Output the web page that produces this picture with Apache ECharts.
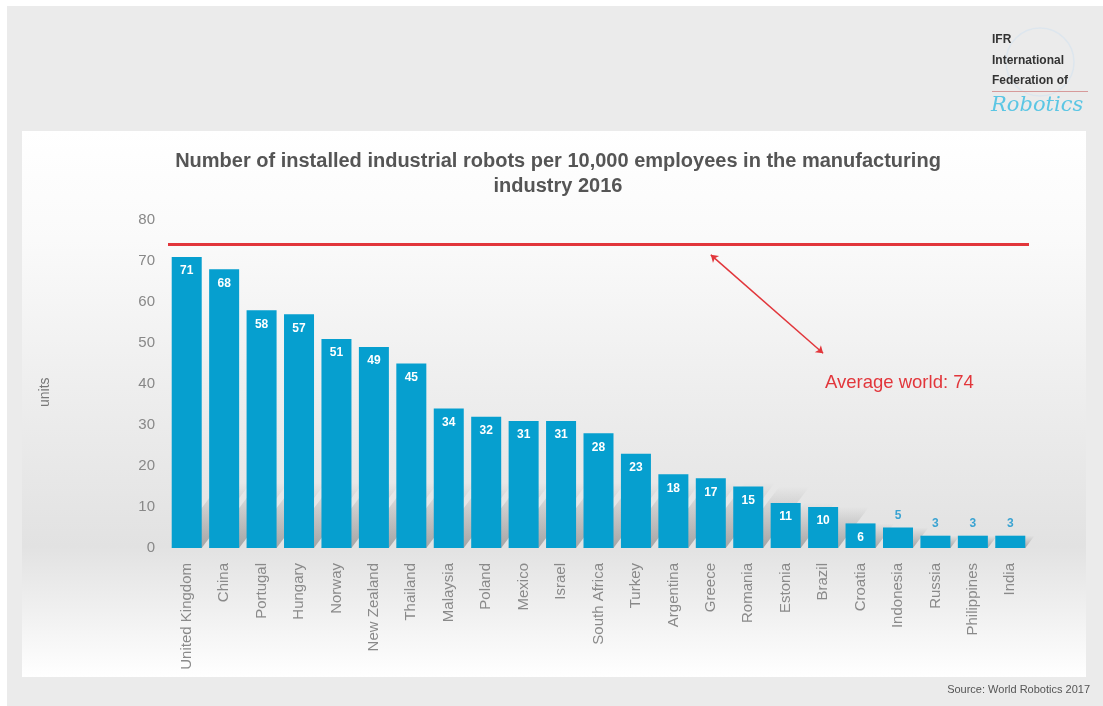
<!DOCTYPE html>
<html>
<head>
<meta charset="utf-8">
<script src="https://cdn.jsdelivr.net/npm/echarts@6/dist/echarts.min.js"></script>
<style>
html,body{margin:0;padding:0;background:#ffffff;}
#chart{width:1103px;height:706px;}
</style>
</head>
<body>
<div id="chart"></div>
<script>
const categories = ['United Kingdom','China','Portugal','Hungary','Norway','New Zealand','Thailand','Malaysia','Poland','Mexico','Israel','South Africa','Turkey','Argentina','Greece','Romania','Estonia','Brazil','Croatia','Indonesia','Russia','Philippines','India'];
const values = [71,68,58,57,51,49,45,34,32,31,31,28,23,18,17,15,11,10,6,5,3,3,3];
const worldAverage = 74;
const yTicks = [0,10,20,30,40,50,60,70,80];
const titleLines = ['Number of installed industrial robots per 10,000 employees in the manufacturing','industry 2016'];
const averageLabel = 'Average world: 74';
const sourceText = 'Source: World Robotics 2017';
</script>
<script>
const BLUE = '#069fcf';
const RED = '#e2363b';
const FONT = '"Liberation Sans", Arial, sans-serif';
const chart = echarts.init(document.getElementById('chart'), null, {renderer:'canvas'});

const barData = values.map(v => {
  if (v < 6) {
    return {value: v, label: {position: 'top', color: '#3aa3d2', distance: 6}};
  }
  return v;
});

const shadowData = values.map((v, i) => [i, v]);

const option = {
  animation: false,
  backgroundColor: 'transparent',
  grid: {left: 168, right: 74, top: 220, bottom: 158},
  xAxis: {
    type: 'category',
    data: categories,
    axisLine: {show: false},
    axisTick: {show: false},
    axisLabel: {rotate: 90, color: '#8a8a8a', fontSize: 15, fontFamily: FONT, margin: 15, interval: 0}
  },
  yAxis: {
    type: 'value',
    min: yTicks[0],
    max: yTicks[yTicks.length - 1],
    interval: 10,
    axisLine: {show: false},
    axisTick: {show: false},
    splitLine: {show: false},
    axisLabel: {color: '#888', fontSize: 15, fontFamily: FONT, margin: 13}
  },
  graphic: [
    {type: 'rect', z: -10, shape: {x: 7, y: 6, width: 1096, height: 700}, style: {fill: '#ebebeb'}},
    {type: 'rect', z: -9, shape: {x: 22, y: 131, width: 1064, height: 546},
      style: {fill: new echarts.graphic.LinearGradient(0, 0, 0, 1, [
        {offset: 0, color: '#ffffff'},
        {offset: 0.2, color: '#fafafa'},
        {offset: 0.47, color: '#eeeeee'},
        {offset: 0.76, color: '#e2e2e2'},
        {offset: 0.87, color: '#efefef'},
        {offset: 1, color: '#ffffff'}
      ])}},
    {type: 'text', x: 558, y: 149, style: {
      text: titleLines.join('\n'), fill: '#555', font: 'bold 20px ' + FONT,
      textAlign: 'center', lineHeight: 25}},
    {type: 'text', x: 825, y: 373, style: {text: averageLabel, fill: RED, font: '18.5px ' + FONT}},
    {type: 'text', x: 38, y: 407, rotation: Math.PI / 2, style: {text: 'units', fill: '#777', font: '14px ' + FONT}},
    {type: 'circle', z: -8, shape: {cx: 1040, cy: 62, r: 34}, style: {fill: 'none', stroke: '#dde6ee', lineWidth: 1.5}},
    {type: 'text', x: 992, y: 34, style: {text: 'IFR', fill: '#333', font: 'bold 12px ' + FONT}},
    {type: 'text', x: 992, y: 55, style: {text: 'International', fill: '#333', font: 'bold 12px ' + FONT}},
    {type: 'text', x: 992, y: 75, style: {text: 'Federation of', fill: '#333', font: 'bold 12px ' + FONT}},
    {type: 'rect', shape: {x: 992, y: 91, width: 96, height: 1}, style: {fill: '#d79a9a'}},
    {type: 'text', x: 991, y: 95, style: {text: 'Robotics', fill: '#5bc6e4', font: 'italic 21px "DejaVu Serif", serif'}},
    {type: 'text', x: 1090, y: 684, style: {text: sourceText, fill: '#555', font: '11px ' + FONT, textAlign: 'right'}}
  ],
  series: [{
    type: 'custom',
    z: 1,
    silent: true,
    data: shadowData,
    encode: {x: 0, y: 1},
    renderItem: function (params, api) {
      const i = api.value(0);
      const v = api.value(1);
      const base = api.coord([i, 0]);
      const top = api.coord([i, Math.min(v, 16)]);
      const h = base[1] - top[1];
      const dx = h * 0.75;
      const hw = 15;
      return {
        type: 'polygon',
        shape: {points: [[base[0] - hw, base[1]], [base[0] + hw, base[1]], [base[0] + hw + dx, top[1]], [base[0] - hw + dx, top[1]]]},
        style: {fill: new echarts.graphic.LinearGradient(0, 1, 0, 0, [
          {offset: 0, color: 'rgba(105,105,105,0.5)'},
          {offset: 1, color: 'rgba(105,105,105,0)'}
        ])}
      };
    }
  }, {
    type: 'bar',
    z: 3,
    data: barData,
    barWidth: 30,
    itemStyle: {color: BLUE},
    label: {show: true, position: 'insideTop', color: '#ffffff', fontWeight: 'bold', fontSize: 12, distance: 8, fontFamily: FONT},
    markLine: {
      silent: true,
      label: {show: false},
      symbol: 'none',
      data: [
        {yAxis: worldAverage, lineStyle: {color: RED, width: 3, type: 'solid'}},
        [{coord: [13.7, 71.5], symbol: 'arrow', symbolSize: 7, lineStyle: {color: RED, width: 1.5, type: 'solid'}},
         {coord: [17, 47.5], symbol: 'arrow', symbolSize: 7}]
      ]
    }
  }]
};
chart.setOption(option);
</script>
</body>
</html>
